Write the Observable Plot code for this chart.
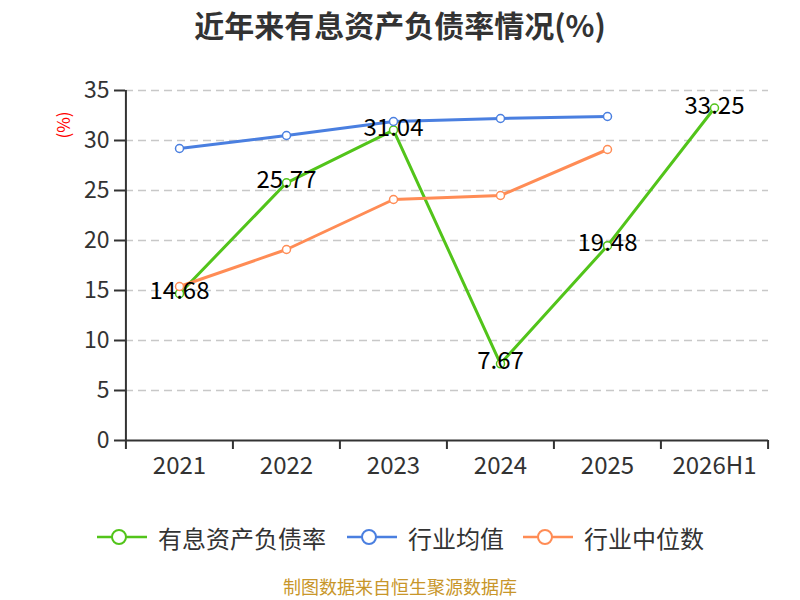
<!DOCTYPE html>
<html><head><meta charset="utf-8">
<script src="https://cdn.jsdelivr.net/npm/d3@7"></script>
<script src="https://cdn.jsdelivr.net/npm/@observablehq/plot@0.6"></script>
<style>
body{margin:0;background:#fff;font-family:"Noto Sans CJK SC","Noto Sans",sans-serif;}
#wrap{width:800px;height:600px;position:relative;overflow:hidden;}
#title{position:absolute;top:0;left:0;width:800px;height:50px;line-height:48px;text-align:center;font-size:30px;font-weight:bold;color:#333;}
#chart{position:absolute;top:50px;left:0;}
#ylabel{position:absolute;left:63px;top:125px;transform:translate(-50%,-50%) rotate(-90deg);font-size:17px;color:red;line-height:18px;white-space:nowrap;}
#legend{position:absolute;top:520px;left:0;width:800px;height:34px;}
.item{position:absolute;top:0;height:34px;display:flex;align-items:center;font-size:24px;color:#333;white-space:nowrap;}
.item svg{margin-right:11px;}
#footer{position:absolute;top:576px;left:0;width:800px;height:20px;line-height:20px;text-align:center;font-size:18px;color:#c8962a;}
</style></head>
<body><div id="wrap">
<div id="title">近年来有息资产负债率情况(%)</div>
<div id="chart"></div>
<div id="ylabel">(%)</div>
<div id="legend"></div>
<div id="footer">制图数据来自恒生聚源数据库</div>
</div>
<script>
const categories = ["2021","2022","2023","2024","2025","2026H1"];
const debtRatio = [14.68, 25.77, 31.04, 7.67, 19.48, 33.25];
const industryMean = [29.2, 30.5, 31.9, 32.2, 32.4];
const industryMedian = [15.4, 19.1, 24.1, 24.5, 29.1];
const yTicks = [0,5,10,15,20,25,30,35];
const seriesNames = ["有息资产负债率","行业均值","行业中位数"];
const colors = ["#52c41a","#4a7fe0","#ff8c55"];

const toRows = (vals) => vals.map((v,i)=>({x:categories[i], y:v}));
const green = toRows(debtRatio), blue = toRows(industryMean), orange = toRows(industryMedian);

const W = 800, H = 450, mL = 125, mR = 32, mT = 40, mB = 60;
const step = (W - mL - mR) / categories.length;
const first = categories[0], last = categories[categories.length-1];

const plot = Plot.plot({
  width: W, height: H,
  marginLeft: mL, marginRight: mR, marginTop: mT, marginBottom: mB,
  style: {fontFamily: '"Noto Sans CJK SC","Noto Sans",sans-serif', background: "#fff"},
  x: {type: "point", domain: categories, padding: 0.5},
  y: {domain: [0, 35]},
  marks: [
    Plot.ruleY(yTicks.filter(d=>d>0), {stroke: "#c8c8c8", strokeWidth: 1.3, strokeDasharray: "8,5"}),
    Plot.axisY({ticks: yTicks, tickSize: 11, tickPadding: 5, fontSize: 23, color: "#333", stroke: "#333", strokeWidth: 2, label: null}),
    Plot.axisX({tickSize: 0, tickPadding: 16, fontSize: 24, color: "#333", label: null}),
    Plot.ruleY([0], {stroke: "#333", strokeWidth: 2}),
    Plot.ruleX([first], {x: d=>d, dx: -step/2, y1: 35, y2: 0, insetBottom: -9, stroke: "#333", strokeWidth: 2}),
    Plot.ruleX(categories.slice(1), {x: d=>d, dx: -step/2, y1: 0, y2: 0, insetBottom: -9, stroke: "#333", strokeWidth: 2}),
    Plot.ruleX([last], {x: d=>d, dx: step/2, y1: 0, y2: 0, insetBottom: -9, stroke: "#333", strokeWidth: 2}),
    Plot.line(green, {x: "x", y: "y", stroke: colors[0], strokeWidth: 3}),
    Plot.dot(green, {x: "x", y: "y", r: 4, fill: "#fff", stroke: colors[0], strokeWidth: 1.5}),
    Plot.line(blue, {x: "x", y: "y", stroke: colors[1], strokeWidth: 3}),
    Plot.dot(blue, {x: "x", y: "y", r: 4, fill: "#fff", stroke: colors[1], strokeWidth: 1.5}),
    Plot.line(orange, {x: "x", y: "y", stroke: colors[2], strokeWidth: 3}),
    Plot.dot(orange, {x: "x", y: "y", r: 4, fill: "#fff", stroke: colors[2], strokeWidth: 1.5}),
    Plot.text(green, {x: "x", y: "y", text: d=>d.y.toFixed(2), fontSize: 24, fill: "#000", dy: -2})
  ]
});
document.getElementById("chart").appendChild(plot);

const leg = document.getElementById("legend");
const lx = [97, 347, 523];
seriesNames.forEach((n,i)=>{
  const d = document.createElement("div");
  d.className = "item";
  d.style.left = lx[i] + "px";
  d.innerHTML = `<svg width="50" height="30"><line x1="0" y1="15" x2="50" y2="15" stroke="${colors[i]}" stroke-width="2.5"/><circle cx="22" cy="15" r="7" fill="#fff" stroke="${colors[i]}" stroke-width="2"/></svg><span>${n}</span>`;
  leg.appendChild(d);
});
</script>
</body></html>
